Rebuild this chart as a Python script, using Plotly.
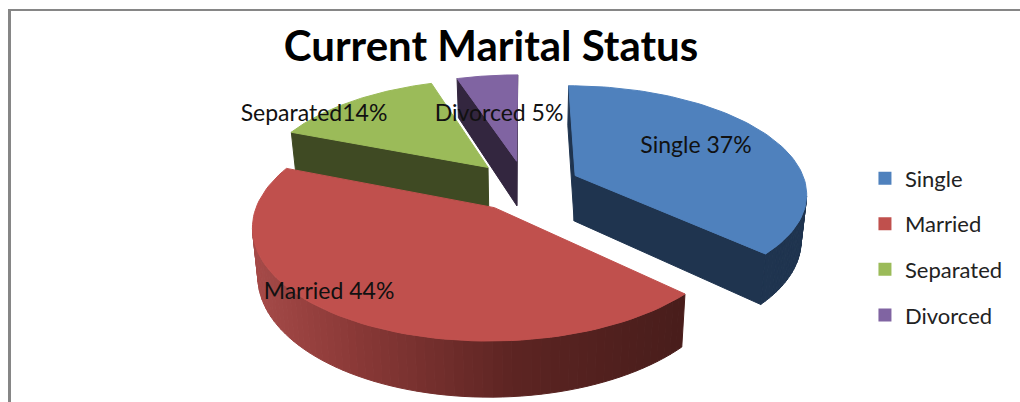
import numpy as np
import plotly.graph_objects as go

# chart data
categories = ['Single', 'Married', 'Separated', 'Divorced']
values = [37, 44, 14, 5]
label_text = ['Single 37%', 'Married 44%', 'Separated14%', 'Divorced 5%']
title_text = 'Current Marital Status'

# styling
top_colors = ['#4f81bd', '#c0504d', '#9bbb59', '#8064a2']
wall_colors = ['#1f344f', None, '#3f4a23', '#33263f']
label_x = [696, 329, 314, 499]
label_y = [147, 293, 115, 115]
draw_order = [3, 2, 0, 1]

# fake 3D pie projection settings
CX, CY = 525, 185.5
RX, RY = 231, 106
PULL = 0.24
PERSP = 0.15
DEPTH = 46


def project(u, v, z=0.0):
    p = 1 / (1 - PERSP * v)
    x = CX + RX * u * p * (1 - 0.02 * z)
    y = CY + RY * v * p + z * DEPTH * p
    return x, y


def wedge_outline(start, end):
    # outline of an exploded slice in unit circle space, apex first
    mid = (start + end) / 2
    ox, oy = PULL * np.sin(mid), -PULL * np.cos(mid)
    t = np.linspace(start, end, 80)
    u = np.concatenate([[ox], ox + np.sin(t)])
    v = np.concatenate([[oy], oy - np.cos(t)])
    return u, v


def side_quads(u, v):
    # one quad per outline edge, keeping only edges that face the viewer
    out = []
    for i in range(len(u)):
        j = (i + 1) % len(u)
        x0, y0 = project(u[i], v[i])
        x1, y1 = project(u[j], v[j])
        if x1 >= x0:
            continue
        x2, y2 = project(u[j], v[j], 1)
        x3, y3 = project(u[i], v[i], 1)
        out.append(([x0, x1, x2, x3, x0], [y0, y1, y2, y3, y0]))
    return out


def wall_shade(x):
    # the Married side gets darker from left to right
    stops_x = [255, 350, 520, 690]
    r = np.interp(x, stops_x, [165, 140, 92, 72])
    g = np.interp(x, stops_x, [74, 58, 36, 29])
    b = np.interp(x, stops_x, [72, 56, 34, 27])
    return f'rgb({r:.0f},{g:.0f},{b:.0f})'


fig = go.Figure()

total = sum(values)
edges = np.cumsum([0] + values) / total * 2 * np.pi

for i in draw_order:
    u, v = wedge_outline(edges[i], edges[i + 1])
    for xs, ys in side_quads(u, v):
        c = wall_colors[i] or wall_shade(xs[0])
        fig.add_trace(go.Scatter(x=xs, y=ys, mode='lines', fill='toself', fillcolor=c,
                                 line=dict(color=c, width=1), showlegend=False, hoverinfo='skip'))
    px, py = project(u, v)
    fig.add_trace(go.Scatter(x=list(px) + [px[0]], y=list(py) + [py[0]], mode='lines', fill='toself',
                             fillcolor=top_colors[i], line=dict(color=top_colors[i], width=1),
                             name=categories[i], text=label_text[i], hoverinfo='text', showlegend=False))

# labels
fig.add_trace(go.Scatter(x=label_x, y=label_y, mode='text', text=label_text,
                         textfont=dict(family='Lato', size=23, color='#111111'),
                         showlegend=False, hoverinfo='skip'))

# legend swatches
for name, color in zip(categories, top_colors):
    fig.add_trace(go.Scatter(x=[None], y=[None], mode='markers', name=name, legendgroup=name,
                             marker=dict(symbol='square', size=13, color=color)))

# chart frame, open at the bottom
fig.add_shape(type='line', x0=8, x1=1020, y0=10, y1=10, line=dict(color='#868686', width=2))
fig.add_shape(type='line', x0=9.5, x1=9.5, y0=9, y1=402, line=dict(color='#868686', width=3))

fig.update_layout(
    width=1020, height=402,
    margin=dict(l=0, r=0, t=0, b=0),
    paper_bgcolor='white', plot_bgcolor='white',
    title=dict(text=f'<b>{title_text}</b>', x=0.4814, xanchor='center', y=0.885, yanchor='middle',
               font=dict(family='Lato', size=42, color='black')),
    xaxis=dict(range=[0, 1020], visible=False, fixedrange=True),
    yaxis=dict(range=[402, 0], visible=False, fixedrange=True),
    legend=dict(x=0.848, y=0.386, xanchor='left', yanchor='middle', tracegroupgap=14,
                font=dict(family='Lato', size=22, color='#222222'), itemwidth=30,
                bgcolor='rgba(0,0,0,0)'),
)

fig.write_html("out.html", config=dict(displayModeBar=False),
               post_script="document.body.style.margin='0';")
